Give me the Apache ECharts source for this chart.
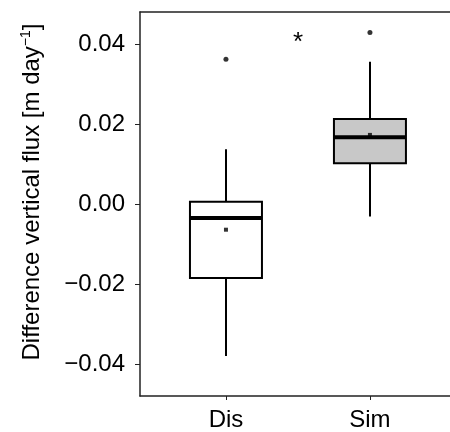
<!DOCTYPE html>
<html>
<head>
<meta charset="utf-8">
<script src="https://cdn.jsdelivr.net/npm/echarts@6/dist/echarts.min.js"></script>
<style>html,body{margin:0;padding:0;background:#fff}#c{width:450px;height:432px}</style>
</head>
<body>
<div id="c"></div>
<script>
var categories = ['Dis', 'Sim'];
var positions = [1, 2];
var lowerWhisker = [-0.0379, -0.0030];
var q1 = [-0.0184, 0.0103];
var median = [-0.0034, 0.0168];
var q3 = [0.0007, 0.0214];
var upperWhisker = [0.0138, 0.0357];
var means = [-0.0063, 0.0174];
var outlierX = [1, 2];
var outlierY = [0.0363, 0.0430];
var yTicks = [-0.04, -0.02, 0.00, 0.02, 0.04];
var annotationX = [1.5];
var annotationY = [0.0405];
var annotationText = ['*'];

var FONT = '"Liberation Sans", Arial, Helvetica, sans-serif';
var fills = ['#ffffff', '#c8c8c8'];

var chart = echarts.init(document.getElementById('c'), null, {renderer: 'canvas'});

var boxData = positions.map(function (p, i) {
  return [p, lowerWhisker[i], q1[i], median[i], q3[i], upperWhisker[i], i];
});

function renderBox(params, api) {
  var x = api.value(0);
  var idx = api.value(6);
  var half = 0.25;
  var pLow = api.coord([x, api.value(1)]);
  var pQ1 = api.coord([x, api.value(2)]);
  var pMed = api.coord([x, api.value(3)]);
  var pQ3 = api.coord([x, api.value(4)]);
  var pUp = api.coord([x, api.value(5)]);
  var left = api.coord([x - half, 0])[0];
  var right = api.coord([x + half, 0])[0];
  var cx = Math.round(pMed[0]);
  return {
    type: 'group',
    children: [
      {type: 'line', shape: {x1: cx, y1: pQ3[1], x2: cx, y2: pUp[1]}, style: {stroke: '#000', lineWidth: 2}},
      {type: 'line', shape: {x1: cx, y1: pQ1[1], x2: cx, y2: pLow[1]}, style: {stroke: '#000', lineWidth: 2}},
      {type: 'rect', shape: {x: left, y: pQ3[1], width: right - left, height: pQ1[1] - pQ3[1]},
        style: {fill: fills[idx], stroke: '#000', lineWidth: 2}},
      {type: 'line', shape: {x1: left, y1: pMed[1], x2: right, y2: pMed[1]}, style: {stroke: '#000', lineWidth: 4}}
    ]
  };
}

function renderAnnotation(params, api) {
  var p = api.coord([api.value(0), api.value(1)]);
  return {
    type: 'text', x: p[0], y: p[1],
    style: {text: annotationText[params.dataIndex], font: '26px ' + FONT, fill: '#000',
      align: 'center', verticalAlign: 'middle'}
  };
}

var xMin = 0.403, xMax = 2.556;

chart.setOption({
  animation: false,
  textStyle: {fontFamily: FONT},
  grid: {left: 140, right: 0, top: 12, bottom: 36, containLabel: false},
  xAxis: [{
    type: 'value', min: xMin, max: xMax, position: 'bottom',
    splitLine: {show: false},
    axisLine: {show: true, onZero: false, lineStyle: {color: '#222', width: 1.5}},
    axisTick: {show: true, customValues: positions, length: 4, inside: false, lineStyle: {color: '#222', width: 1}},
    axisLabel: {show: true, customValues: positions, margin: 12, fontSize: 24, color: '#000', fontFamily: FONT,
      formatter: function (v) { return categories[Math.round(v) - 1]; }}
  }, {
    type: 'value', min: xMin, max: xMax, position: 'top',
    splitLine: {show: false},
    axisLine: {show: true, onZero: false, lineStyle: {color: '#222', width: 1.5}},
    axisTick: {show: false}, axisLabel: {show: false}
  }],
  yAxis: {
    type: 'value', min: -0.047875, max: 0.048125,
    splitLine: {show: false},
    axisLine: {show: true, onZero: false, lineStyle: {color: '#222', width: 1.5}},
    axisTick: {show: true, customValues: yTicks, length: 5, lineStyle: {color: '#222', width: 1}},
    axisLabel: {show: true, customValues: yTicks, margin: 15, fontSize: 24, color: '#000', fontFamily: FONT,
      formatter: function (v) {
        var a = Math.abs(v);
        if (a < 1e-9) return '0.00';
        return (v < 0 ? '\u2212' : '') + a.toFixed(2);
      }}
  },
  graphic: [{
    type: 'text', x: 32, y: 192, rotation: Math.PI / 2,
    style: {
      text: 'Difference vertical flux [m day{sup|\u22121}]',
      font: '24px ' + FONT, fill: '#000', align: 'center', verticalAlign: 'middle',
      rich: {sup: {fontSize: 14, fontFamily: FONT, verticalAlign: 'top', padding: [0, 0, 12, 0]}}
    }
  }],
  series: [{
    type: 'custom', renderItem: renderBox, data: boxData,
    encode: {x: 0, y: [1, 2, 3, 4, 5]}, z: 2
  }, {
    type: 'scatter', symbol: 'rect', symbolSize: 4, itemStyle: {color: '#000'},
    data: positions.map(function (p, i) { return [p, means[i]]; }), z: 5
  }, {
    type: 'scatter', symbol: 'circle', symbolSize: 5, itemStyle: {color: '#000'},
    data: outlierX.map(function (p, i) { return [p, outlierY[i]]; }), z: 5
  }, {
    type: 'custom', renderItem: renderAnnotation,
    data: annotationX.map(function (p, i) { return [p, annotationY[i]]; }),
    encode: {x: 0, y: 1}, z: 6
  }]
});
</script>
</body>
</html>
